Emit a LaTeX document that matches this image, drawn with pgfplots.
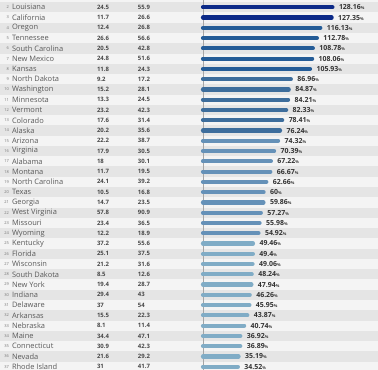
\documentclass[border=0pt]{standalone}
\usepackage{pgfplots}
\usepackage{pgfplotstable}
\pgfplotsset{compat=1.18}
\usepackage{fontspec}
\setmainfont{Open Sans}
\definecolor{rowgray}{HTML}{E5E5E5}
\definecolor{rowlight}{HTML}{F4F4F4}
\definecolor{gA}{HTML}{0C2A88}
\definecolor{gB}{HTML}{245C97}
\definecolor{gC}{HTML}{3D6D9C}
\definecolor{gD}{HTML}{6591B8}
\definecolor{gE}{HTML}{80ACC6}
\pgfplotstableread[col sep=comma]{
rank,state,a,b,pct,lab
1,Mississippi,13.2,30.7,132.58,132.58
2,Louisiana,24.5,55.9,128.16,128.16
3,California,11.7,26.6,127.35,127.35
4,Oregon,12.4,26.8,116.13,116.13
5,Tennessee,26.6,56.6,112.78,112.78
6,South Carolina,20.5,42.8,108.78,108.78
7,New Mexico,24.8,51.6,108.06,108.06
8,Kansas,11.8,24.3,105.93,105.93
9,North Dakota,9.2,17.2,86.96,86.96
10,Washington,15.2,28.1,84.87,84.87
11,Minnesota,13.3,24.5,84.21,84.21
12,Vermont,23.2,42.3,82.33,82.33
13,Colorado,17.6,31.4,78.41,78.41
14,Alaska,20.2,35.6,76.24,76.24
15,Arizona,22.2,38.7,74.32,74.32
16,Virginia,17.9,30.5,70.39,70.39
17,Alabama,18,30.1,67.22,67.22
18,Montana,11.7,19.5,66.67,66.67
19,North Carolina,24.1,39.2,62.66,62.66
20,Texas,10.5,16.8,60,60
21,Georgia,14.7,23.5,59.86,59.86
22,West Virginia,57.8,90.9,57.27,57.27
23,Missouri,23.4,36.5,55.98,55.98
24,Wyoming,12.2,18.9,54.92,54.92
25,Kentucky,37.2,55.6,49.46,49.46
26,Florida,25.1,37.5,49.4,49.4
27,Wisconsin,21.2,31.6,49.06,49.06
28,South Dakota,8.5,12.6,48.24,48.24
29,New York,19.4,28.7,47.94,47.94
30,Indiana,29.4,43,46.26,46.26
31,Delaware,37,54,45.95,45.95
32,Arkansas,15.5,22.3,43.87,43.87
33,Nebraska,8.1,11.4,40.74,40.74
34,Maine,34.4,47.1,36.92,36.92
35,Connecticut,30.9,42.3,36.89,36.89
36,Nevada,21.6,29.2,35.19,35.19
37,Rhode Island,31,41.7,34.52,34.52
}\data
\begin{document}
\begin{tikzpicture}
\begin{axis}[
  width=378bp, height=370bp, scale only axis,
  xmin=-200.99, xmax=173.27,
  ymin=1.29, ymax=37.32, y dir=reverse,
  axis lines=none, ticks=none,
  axis background/.style={fill=rowlight},
  clip=true,
  every node near coord/.append style={inner sep=0pt, outer sep=0pt},
]
\pgfplotsinvokeforeach{0,2,...,38}{
  \fill[rowgray] (axis cs:-210,#1-0.5) rectangle (axis cs:180,#1+0.5);
}
\draw[gray!70, line width=0.5bp] (axis cs:0,0) -- (axis cs:0,39);
% bars
\pgfplotsset{barline/.style={xcomb, line width=4.2bp, line cap=round, mark=none}}
\addplot[barline, draw=gA, restrict y to domain=1:3] table[col sep=comma, x=pct, y=rank] {\data};
\addplot[barline, draw=gB, restrict y to domain=4:8] table[col sep=comma, x=pct, y=rank] {\data};
\addplot[barline, draw=gC, restrict y to domain=9:14] table[col sep=comma, x=pct, y=rank] {\data};
\addplot[barline, draw=gD, restrict y to domain=15:24] table[col sep=comma, x=pct, y=rank] {\data};
\addplot[barline, draw=gE, restrict y to domain=25:37] table[col sep=comma, x=pct, y=rank] {\data};
% labels
\addplot[draw=none, mark=none, nodes near coords, point meta=explicit symbolic,
  every node near coord/.append style={anchor=east, font=\fontsize{4}{4}\selectfont, text=black!55}]
  table[col sep=comma, x expr=-192.1, y=rank, meta=rank] {\data};
\addplot[draw=none, mark=none, nodes near coords, point meta=explicit symbolic,
  every node near coord/.append style={anchor=west, font=\fontsize{7.5}{8}\selectfont, text=black!65}]
  table[col sep=comma, x expr=-189.1, y=rank, meta=state] {\data};
\addplot[draw=none, mark=none, nodes near coords, point meta=explicit symbolic,
  every node near coord/.append style={anchor=west, font=\fontsize{6}{7}\selectfont\bfseries, text=black!72}]
  table[col sep=comma, x expr=-104.95, y=rank, meta=a] {\data};
\addplot[draw=none, mark=none, nodes near coords, point meta=explicit symbolic,
  every node near coord/.append style={anchor=west, font=\fontsize{6}{7}\selectfont\bfseries, text=black!72}]
  table[col sep=comma, x expr=-64.36, y=rank, meta=b] {\data};
\addplot[draw=none, mark=none, nodes near coords={\pgfplotspointmeta{\fontsize{4}{4}\selectfont\%}}, point meta=explicit symbolic,
  every node near coord/.append style={anchor=west, font=\fontsize{7}{8}\selectfont\bfseries, text=black!80}]
  table[col sep=comma, x expr=\thisrow{pct}+6.5, y=rank, meta=lab] {\data};
\end{axis}
\pgfresetboundingbox
\useasboundingbox (current axis.south west) rectangle (current axis.north east);
\end{tikzpicture}
\end{document}
